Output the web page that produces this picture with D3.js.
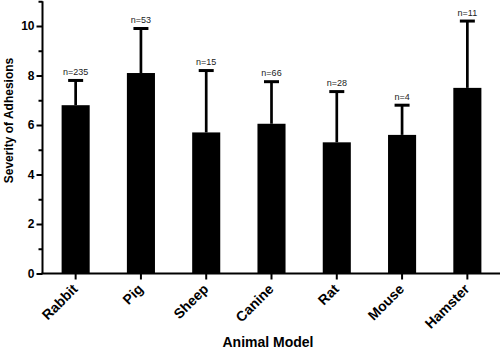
<!DOCTYPE html>
<html><head><meta charset="utf-8">
<script src="https://cdn.jsdelivr.net/npm/d3@7"></script>
<style>body{margin:0;background:#fff}svg{display:block}text{font-family:"Liberation Sans",Arial,sans-serif}</style>
</head><body><svg id="c" width="500" height="353"></svg>
<script>
const categories = ["Rabbit","Pig","Sheep","Canine","Rat","Mouse","Hamster"];
const means = [6.8, 8.1, 5.7, 6.05, 5.3, 5.6, 7.5];
const errors = [1.0, 1.8, 2.5, 1.7, 2.05, 1.2, 2.7];
const nLabels = ["n=235","n=53","n=15","n=66","n=28","n=4","n=11"];
const majorTicks = [0,2,4,6,8,10];
const minorTicks = [1,3,5,7,9,11];

const svg = d3.select("#c");
const x = d3.scaleBand().domain(categories).range([43, 500]).paddingInner(0.57).paddingOuter(0.285);
const y = d3.scaleLinear().domain([0, 11]).range([273.5, 1.25]);
const data = categories.map((c,i)=>({c, m:means[i], e:errors[i], n:nLabels[i]}));

// bars
svg.selectAll("rect.bar").data(data).join("rect")
  .attr("x", d=>x(d.c)).attr("width", x.bandwidth())
  .attr("y", d=>y(d.m)).attr("height", d=>y(0)-y(d.m)).attr("fill","#000");

// error bars
const cx = d=>x(d.c)+x.bandwidth()/2;
svg.selectAll("line.err").data(data).join("line")
  .attr("x1",cx).attr("x2",cx).attr("y1",d=>y(d.m)).attr("y2",d=>y(d.m+d.e))
  .attr("stroke","#000").attr("stroke-width",2.7);
svg.selectAll("line.cap").data(data).join("line")
  .attr("x1",d=>cx(d)-7.5).attr("x2",d=>cx(d)+7.5).attr("y1",d=>y(d.m+d.e)).attr("y2",d=>y(d.m+d.e))
  .attr("stroke","#000").attr("stroke-width",3);
svg.selectAll("text.n").data(data).join("text")
  .attr("x",cx).attr("y",d=>y(d.m+d.e)-5.5).attr("text-anchor","middle")
  .attr("font-size","9px").attr("fill","#222").text(d=>d.n);

// y axis
const ya = svg.append("g").attr("transform","translate(42.5,0)")
  .call(d3.axisLeft(y).tickValues(majorTicks).tickSize(6).tickPadding(2).tickFormat(d3.format("d")));
ya.select(".domain").attr("stroke-width",2).attr("d","M0,"+y(11)+"V"+y(0));
ya.selectAll(".tick line").attr("stroke-width",2);
ya.selectAll(".tick text").attr("font-size","12px").attr("font-weight","bold").attr("fill","#000").attr("font-family","Liberation Sans, Arial, sans-serif");
svg.append("g").attr("transform","translate(42.5,0)")
  .call(d3.axisLeft(y).tickValues(minorTicks).tickSize(4).tickFormat(""))
  .call(g=>{g.select(".domain").remove(); g.selectAll(".tick line").attr("stroke-width",2);});

// x axis
const xa = svg.append("g").attr("transform","translate(0,273.5)")
  .call(d3.axisBottom(x).tickSize(6).tickSizeOuter(0).tickPadding(3));
xa.select(".domain").attr("stroke-width",2).attr("d","M41.5,0H500");
xa.selectAll(".tick line").attr("stroke-width",2);
xa.selectAll(".tick text").attr("font-size","14px").attr("font-weight","bold").attr("fill","#000")
  .attr("font-family","Liberation Sans, Arial, sans-serif")
  .attr("text-anchor","end").attr("y",0).attr("dy","0").attr("transform","translate(3,16.5) rotate(-45)");

// axis titles
svg.append("text").attr("x",268).attr("y",347).attr("text-anchor","middle")
  .attr("font-size","14px").attr("font-weight","bold").text("Animal Model");
svg.append("text").attr("transform","translate(13,120.5) rotate(-90)").attr("text-anchor","middle")
  .attr("font-size","12px").attr("font-weight","bold").text("Severity of Adhesions");
</script></body></html>
